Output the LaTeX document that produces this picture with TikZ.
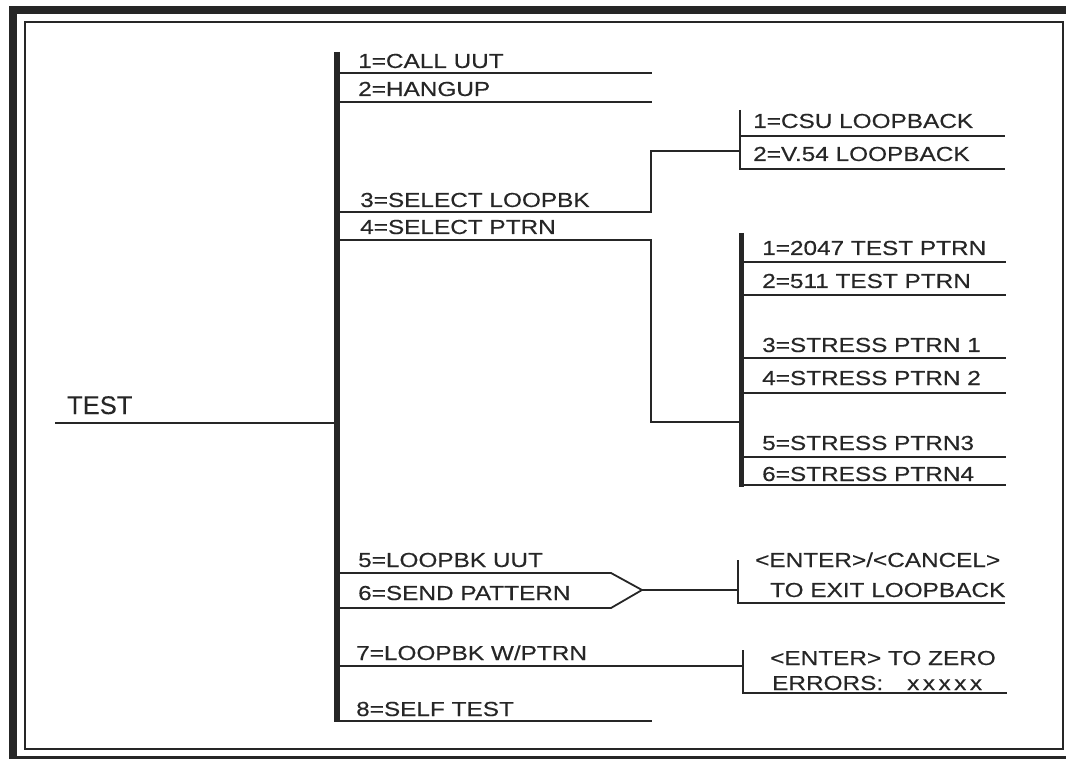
\documentclass[tikz,border=0pt]{standalone}
\usepackage{fontspec}
\setmainfont{Liberation Sans}[FakeStretch=1.2,FakeBold=0.3]
\newfontfamily\testfont{Liberation Sans}[FakeBold=0.3]
\definecolor{ink}{gray}{0.15}
\tikzset{
  menu/.style={anchor=base west,inner sep=0pt,font=\fontsize{20.3}{23}\selectfont},
  title/.style={anchor=base west,inner sep=0pt,font=\testfont\fontsize{25.5}{28}\selectfont},
  rule/.style={line width=1.8pt},
  bar/.style={line width=6pt},
  subbar/.style={line width=5pt},
}
\begin{document}
\begin{tikzpicture}[x=1pt,y=-1pt,color=ink]
		\useasboundingbox (0,0) rectangle (1066,759);
		% frame
		\draw[line width=8pt] (13,10) rectangle (1090,760);
		\draw[rule] (25,22) rectangle (1063,749);
		% main bar and TEST
		\coordinate (bar top) at (337,52);
		\coordinate (bar bot) at (337,722);
		\draw[bar] (bar top)--(bar bot);
		\node[title] (test) at (67,414) {TEST};
		\coordinate (test start) at (55,423);
		\draw[rule] (test start)--(test start -| bar top);
		% main menu
		\node[menu] (m1) at (358,68)  {1=CALL UUT};
		\node[menu] (m2) at (358,96)  {2=HANGUP};
		\node[menu] (m3) at (360,207) {3=SELECT LOOPBK};
		\node[menu] (m4) at (360,234) {4=SELECT PTRN};
		\node[menu] (m5) at (358,567) {5=LOOPBK UUT};
		\node[menu] (m6) at (358,600) {6=SEND PATTERN};
		\node[menu] (m7) at (356,660) {7=LOOPBK W/PTRN};
		\node[menu] (m8) at (356,716) {8=SELF TEST};
		\foreach \y in {73,102,721}
			\draw[rule] (bar top |- 0,\y)--(652,\y);
		% loopback submenu
		\coordinate (s1 top) at (740,110);
		\coordinate (s1 bot) at (740,169);
		\node[menu] (c1) at (753,128) {1=CSU LOOPBACK};
		\node[menu] (c2) at (753,161) {2=V.54 LOOPBACK};
		\draw[rule] (s1 top)--(s1 bot)--(1005,169) (740,136)--(1005,136);
		\draw[rule] (bar top |- 0,212)--(651,212)--(651,151)--(s1 top |- 0,151);
		% pattern submenu
		\coordinate (s2 top) at (741,233);
		\coordinate (s2 bot) at (741,487);
		\draw[subbar] (s2 top)--(s2 bot);
		\node[menu] (t1) at (762,255) {1=2047 TEST PTRN};
		\node[menu] (t2) at (762,288) {2=511 TEST PTRN};
		\node[menu] (t3) at (762,352) {3=STRESS PTRN 1};
		\node[menu] (t4) at (762,385) {4=STRESS PTRN 2};
		\node[menu] (t5) at (762,450) {5=STRESS PTRN3};
		\node[menu] (t6) at (762,481) {6=STRESS PTRN4};
		\foreach \y in {262,295,358,393,457,485}
			\draw[rule] (s2 top |- 0,\y)--(1006,\y);
		\draw[rule] (bar top |- 0,240)--(651,240)--(651,422)--(s2 top |- 0,422);
		% send pattern
		\coordinate (p top) at (611,573);
		\coordinate (p tip) at (642,590);
		\coordinate (p bot) at (611,608);
		\draw[rule] (bar top |- p top)--(p top)--(p tip)--(p bot)--(bar top |- p bot);
		\coordinate (k1 top) at (738,560);
		\coordinate (k1 bot) at (738,603);
		\node[menu] (x1) at (755,567) {<ENTER>/<CANCEL>};
		\node[menu] (x2) at (770,597) {TO EXIT LOOPBACK};
		\draw[rule] (k1 top)--(k1 bot)--(1005,603);
		\draw[rule] (p tip)--(p tip -| k1 top);
		% loopback with pattern
		\coordinate (k2 top) at (743,650);
		\coordinate (k2 bot) at (743,693);
		\node[menu] (z1) at (770,665) {<ENTER> TO ZERO};
		\node[menu] (z2) at (772,690) {ERRORS:\hspace{24pt}x\kern3.5pt x\kern3.5pt x\kern3.5pt x\kern3.5pt x};
		\draw[rule] (k2 top)--(k2 bot)--(1007,693);
		\draw[rule] (bar top |- 0,666)--(k2 top |- 0,666);
\end{tikzpicture}
\end{document}
